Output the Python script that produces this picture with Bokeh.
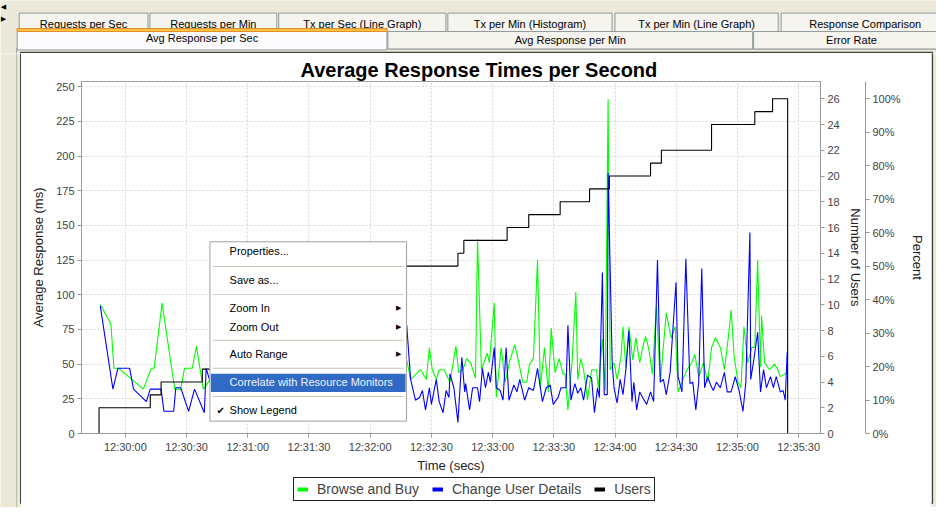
from datetime import datetime, timedelta
from bokeh.plotting import figure
from bokeh.layouts import column, row
from bokeh.models import (Range1d, LinearAxis, SingleIntervalTicker, DatetimeTickFormatter,
                          PrintfTickFormatter, Legend, LegendItem, BoxAnnotation, Label, Title)
from bokeh.core.properties import value
from bokeh.embed import file_html
from bokeh.resources import INLINE

# ---------------- data (seconds relative to 12:30:00) ----------------
green_t = [-12.3, -7.1, -5.6, -3.2, 8.8, 12.7, 14.1, 18.0, 24.2, 27.1,
           29.0, 32.8, 34.8, 38.2, 41.6,
           45.0, 48.5, 52.0, 55.5, 59.0, 62.5, 66.0, 69.5, 73.0, 76.5,
           80.0, 83.5, 87.0, 90.5, 94.0, 97.5, 101.0, 104.5, 108.0, 111.5,
           115.0, 118.5, 122.0, 125.5, 129.0, 132.5, 136.0,
           137.9, 139.8, 144.7, 147.5, 149.0, 150.4, 152.4, 153.8, 156.2, 159.1,
           162.0, 163.4, 165.4, 167.3, 169.2, 171.6, 172.6, 174.5, 177.4, 178.4,
           180.8, 181.8, 184.2, 186.1, 188.5, 190.9, 192.8, 194.8, 196.7, 198.1,
           200.0, 202.0, 203.4, 205.4, 207.3, 208.7, 210.6, 212.6, 214.5, 215.5,
           216.9, 218.9, 220.8, 221.7, 223.2, 224.6, 226.5, 228.5, 230.9, 231.8,
           233.8, 235.2, 236.6, 237.6, 239.5, 241.0, 242.9, 243.9, 245.3, 246.8,
           248.7, 250.2, 252.1, 253.5, 255.0, 256.4, 258.3, 260.3, 262.2, 265.1,
           267.5, 269.5, 270.9, 273.3, 275.2, 277.6, 279.1, 281.0, 283.4, 285.4,
           287.3, 289.2, 291.6, 293.6, 295.5, 296.9, 298.4, 300.3, 301.7, 303.2,
           305.1, 307.0, 308.5, 309.9, 311.3, 311.8, 313.3, 315.7, 318.1, 319.5,
           321.0, 324.4]
green_v = [93, 79, 47, 47, 32, 47, 47, 94, 32, 32,
           47, 47, 63, 32, 39,
           52, 41, 58, 37, 48, 66, 44, 39, 55, 47,
           35, 61, 50, 42, 72, 45, 38, 53, 46, 59,
           40, 49, 64, 43, 51, 38, 48,
           53, 39, 46, 39, 62, 46, 39, 46, 46, 37,
           63, 44, 46, 54, 51, 40, 140, 46, 58, 51,
           94, 26, 62, 37, 53, 64, 51, 37, 37, 50,
           54, 125, 33, 62, 30, 76, 44, 54, 43, 43,
           17, 51, 102, 39, 54, 46, 24, 46, 46, 33,
           68, 31, 241, 46, 51, 39, 55, 77, 47, 77,
           53, 69, 51, 62, 70, 62, 43, 92, 37, 87,
           69, 77, 30, 39, 46, 51, 57, 41, 51, 37,
           62, 69, 62, 46, 69, 89, 55, 37, 33, 77,
           51, 62, 62, 125, 48, 85, 51, 46, 50, 47,
           41, 44]

blue_t = [-12.3, -6.1, -3.7, 2.1, 4.0, 10.3, 12.2, 17.5, 18.9, 23.7,
          24.7, 27.1, 31.0, 33.9, 38.7, 39.6, 41.6,
          45.0, 48.5, 52.0, 55.5, 59.0, 62.5, 66.0, 69.5, 73.0, 76.5,
          80.0, 83.5, 87.0, 90.5, 94.0, 97.5, 101.0, 104.5, 108.0, 111.5,
          115.0, 118.5, 122.0, 125.5, 129.0, 132.5, 136.0,
          137.9, 139.8, 142.2, 144.2, 145.6, 147.1, 149.0, 150.0, 152.4, 153.8,
          155.7, 157.2, 158.6, 159.1, 161.0, 163.0, 164.9, 166.3, 166.8, 168.7,
          170.2, 172.6, 173.6, 175.0, 176.5, 177.9, 178.9, 180.8, 181.8, 183.7,
          185.1, 186.6, 188.0, 190.4, 191.9, 193.3, 195.7, 197.7, 200.0, 202.0,
          204.4, 206.3, 208.2, 209.7, 212.1, 213.5, 216.0, 216.9, 218.4, 220.3,
          221.7, 223.2, 224.6, 226.5, 228.5, 229.9, 231.4, 232.3, 233.8, 234.7,
          236.2, 236.6, 238.6, 239.5, 241.0, 242.5, 243.9, 245.3, 246.8, 248.3,
          249.2, 250.6, 252.1, 253.5, 255.5, 257.4, 258.9, 260.8, 262.2, 263.7,
          265.1, 267.0, 268.0, 269.9, 270.9, 272.8, 274.7, 276.7, 278.1, 279.6,
          281.0, 282.5, 283.9, 285.4, 286.8, 288.2, 289.7, 291.6, 293.6, 295.0,
          296.9, 298.9, 300.8, 302.7, 304.1, 306.1, 306.5, 308.0, 309.9, 311.3,
          312.8, 314.2, 316.2, 317.6, 319.0, 321.0, 322.4, 323.4, 324.4]
blue_v = [92, 32, 47, 47, 32, 23, 32, 32, 16, 16,
          33, 33, 16, 32, 15, 47, 37,
          28, 35, 22, 40, 31, 26, 45, 30, 24, 38,
          29, 33, 21, 41, 34, 27, 36, 25, 44, 32,
          28, 39, 30, 47, 33, 55, 70,
          78, 39, 24, 26, 31, 17, 33, 21, 39, 23,
          15, 31, 26, 43, 33, 8, 55, 30, 36, 17,
          33, 33, 23, 47, 33, 44, 37, 62, 33, 31,
          24, 62, 24, 35, 30, 39, 24, 33, 31, 47,
          23, 33, 35, 21, 26, 33, 33, 78, 24, 36,
          29, 33, 24, 42, 40, 15, 33, 26, 116, 28,
          28, 188, 51, 33, 22, 39, 28, 46, 74, 23,
          37, 17, 30, 26, 21, 30, 23, 125, 37, 39,
          28, 44, 67, 109, 41, 30, 126, 36, 37, 17,
          37, 119, 33, 41, 35, 31, 37, 33, 44, 30,
          30, 41, 31, 16, 37, 145, 39, 53, 73, 30,
          46, 33, 41, 33, 41, 30, 31, 24, 59]

users_t = [-13.8, -12.9, 12.2, 17.5, 37.7, 54.6, 69.0, 83.5, 94.1, 105.2,
           117.2, 129.3, 134.1, 163.0, 165.9, 187.1, 197.7, 213.1, 227.5, 237.2,
           257.4, 262.7, 287.3, 308.5, 317.2, 324.6]
users_n = [0, 2, 3, 4, 5, 6, 7, 8, 9, 10,
           11, 12, 13, 14, 15, 16, 17, 18, 19, 20,
           21, 22, 24, 25, 26, 0]

series_names = ["Browse and Buy", "Change User Details", "Users"]
series_colors = ["#00ff00", "#0000ff", "#000000"]
title_text = "Average Response Times per Second"

tabs_row1 = ["Requests per Sec", "Requests per Min", "Tx per Sec (Line Graph)",
             "Tx per Min (Histogram)", "Tx per Min (Line Graph)", "Response Comparison"]
tabs_row2 = ["Avg Response per Sec", "Avg Response per Min", "Error Rate"]
menu_items = ["Properties...", "Save as...", "Zoom In", "Zoom Out", "Auto Range",
              "Correlate with Resource Monitors", "Show Legend"]

BASE = datetime(2010, 1, 1, 12, 30, 0)


def ts(sec):
    return BASE + timedelta(seconds=sec)


FONT = "Liberation Sans"
BEIGE = "#ECE9D8"
TABLINE = "#919B9C"
PANEL = "#404040"
SX, SY = 936 / 952, 507 / 523   # reference px -> canvas px

# ---------------- layout sizes (canvas px) ----------------
TOP_H, SIDE_W, RIGHT_W, BOT_H = 53, 21, 5, 5
CH_W = 936 - SIDE_W - RIGHT_W          # 910
MID_H = 507 - TOP_H - BOT_H            # 449
CH_H, LEG_H = 422, MID_H - 422         # chart / legend strip
ref = lambda cx: cx / SX
refy = lambda cy: cy / SY


def blank(w, h, x0, x1, y0, y1, bg=BEIGE):
    f = figure(width=w, height=h, x_range=Range1d(x0, x1), y_range=Range1d(y1, y0),
               output_backend="svg", toolbar_location=None, title=None,
               x_axis_type=None, y_axis_type=None, min_border=0,
               outline_line_color=None, background_fill_color=bg, border_fill_color=bg)
    return f


# ---------------- tab strip (drawn in reference px) ----------------
tabs = blank(936, TOP_H, 0, 952, 0, refy(TOP_H))
r1_x = [(19, 150), (152, 281), (283, 453), (455, 622), (625, 791), (794, 965)]
tabs.quad(left=[a for a, b in r1_x], right=[b for a, b in r1_x], top=[13] * 6, bottom=[33] * 6,
          fill_color="#F5F4EF", line_color=TABLINE)
tabs.text(x=[(a + b) / 2 for a, b in r1_x], y=[24] * 6, text=tabs_row1,
          text_align="center", text_baseline="middle", text_font=value(FONT),
          text_font_size="11px", text_color="black")
r2_x = [(17, 393), (394, 765), (766, 965)]
tabs.quad(left=[16, 16], right=[960, 17], top=[49.5, 49.5], bottom=[50.5, 60],
          fill_color=TABLINE, line_color=None)
tabs.quad(left=[a for a, b in r2_x[1:]], right=[b for a, b in r2_x[1:]], top=[32, 32],
          bottom=[50, 50], fill_color="#F5F4EF", line_color=TABLINE)
tabs.text(x=[(a + b) / 2 for a, b in r2_x[1:]], y=[41, 41], text=tabs_row2[1:],
          text_align="center", text_baseline="middle", text_font=value(FONT),
          text_font_size="11px", text_color="black")
sa, sb = r2_x[0]
tabs.quad(left=[sa], right=[sb], top=[29], bottom=[51], fill_color="#FCFCFE", line_color=TABLINE)
tabs.quad(left=[sa], right=[sb], top=[29], bottom=[32], fill_color="#FFC83C", line_color="#E68B2C")
tabs.text(x=[(sa + sb) / 2], y=[39], text=[tabs_row2[0]], text_align="center",
          text_baseline="middle", text_font=value(FONT), text_font_size="11px", text_color="black")
tabs.text(x=[3, 3], y=[7, 19], text=["\u25C0", "\u25B6"], text_align="center",
          text_baseline="middle", text_font=value("DejaVu Sans"), text_font_size="7px",
          text_color="black")
tabs.quad(left=[20.5], right=[948], top=[53.6], bottom=[56], fill_color="white",
          line_color=PANEL, line_width=1.5)

# ---------------- side strips ----------------
y_top = refy(TOP_H)
left = blank(SIDE_W, MID_H + BOT_H, 0, ref(SIDE_W), y_top, 523)
left.quad(left=[16], right=[17], top=[y_top], bottom=[523], fill_color="#B5B4AA", line_color=None)
left.quad(left=[20.6], right=[30], top=[y_top], bottom=[518.6], fill_color="white",
          line_color=PANEL, line_width=1.5)
x_r0 = ref(SIDE_W + CH_W)
right = blank(RIGHT_W, MID_H + BOT_H, x_r0, 952, y_top, 523)
right.quad(left=[900], right=[947.8], top=[y_top], bottom=[518.6], fill_color="white",
           line_color=PANEL, line_width=1.5)
bottom = blank(CH_W, BOT_H, ref(SIDE_W), x_r0, refy(TOP_H + MID_H), 523)
bottom.quad(left=[0], right=[947.8], top=[400], bottom=[518.6], fill_color="white",
            line_color=PANEL, line_width=1.5)

# ---------------- chart ----------------
ML, MT = 60, 28
MR = CH_W - 799
MB = CH_H - 383
p = figure(width=CH_W, height=CH_H, output_backend="svg", toolbar_location=None,
           x_axis_type="datetime",
           x_range=Range1d(ts(-21.5), ts(340.7)), y_range=Range1d(0, 253.8),
           min_border_left=ML, min_border_right=MR, min_border_top=MT, min_border_bottom=MB,
           background_fill_color="white", border_fill_color="white",
           outline_line_color="#a0a0a0", title=None)
p.extra_y_ranges = {"users": Range1d(0, 27.34), "pct": Range1d(0, 105.2)}
p.add_layout(Title(text=title_text, align="left", offset=219, vertical_align="middle",
                   standoff=0, text_font=FONT, text_font_size="20px",
                   text_font_style="bold", text_color="black"), "above")


def style_axis(ax, label_standoff):
    ax.axis_line_color = "#999999"
    ax.major_tick_line_color = "#999999"
    ax.major_tick_out = 4
    ax.major_tick_in = 0
    ax.minor_tick_line_color = None
    ax.major_label_text_font = FONT
    ax.major_label_text_font_size = "11px"
    ax.major_label_text_color = "#444444"
    ax.major_label_standoff = 3
    ax.axis_label_text_font = FONT
    ax.axis_label_text_font_size = "13px"
    ax.axis_label_text_font_style = "normal"
    ax.axis_label_text_color = "#222222"
    ax.axis_label_standoff = label_standoff


xax = p.xaxis[0]
xax.ticker = SingleIntervalTicker(interval=30000, num_minor_ticks=0)
fmt = "%H:%M:%S"
xax.formatter = DatetimeTickFormatter(seconds=fmt, minsec=fmt, minutes=fmt, hourmin=fmt, hours=fmt)
xax.axis_label = "Time (secs)"
style_axis(xax, 2)

yax = p.yaxis[0]
yax.ticker = SingleIntervalTicker(interval=25, num_minor_ticks=0)
yax.axis_label = "Average Response (ms)"
style_axis(yax, 7)

uax = LinearAxis(y_range_name="users", axis_label="Number of Users",
                 ticker=SingleIntervalTicker(interval=2, num_minor_ticks=0))
style_axis(uax, 5)
p.add_layout(uax, "right")

pax = LinearAxis(y_range_name="pct", axis_label="Percent",
                 ticker=SingleIntervalTicker(interval=10, num_minor_ticks=0),
                 formatter=PrintfTickFormatter(format="%d%%"))
style_axis(pax, 6)
p.add_layout(pax, "right")

for g in (p.xgrid[0], p.ygrid[0]):
    g.grid_line_color = "#d9d9d9"
    g.grid_line_dash = "2 2"

# data lines
p.line([ts(t) for t in green_t], green_v, line_color=series_colors[0], line_width=1.1)
p.line([ts(t) for t in blue_t], blue_v, line_color=series_colors[1], line_width=1.1)
p.step([ts(t) for t in users_t], users_n, mode="after", line_color=series_colors[2],
       line_width=1.1, y_range_name="users")

# ---------------- context menu (reference px -> frame screen px) ----------------
FLc, FBc = SIDE_W + ML, TOP_H + CH_H - MB


def box(x1, y1, x2, y2, fill, line=None, lw=1):
    p.add_layout(BoxAnnotation(left=x1 * SX - FLc, right=x2 * SX - FLc,
                               top=FBc - y1 * SY, bottom=FBc - y2 * SY,
                               left_units="screen", right_units="screen",
                               top_units="screen", bottom_units="screen",
                               fill_color=fill, fill_alpha=1.0, line_color=line,
                               line_alpha=1.0, line_width=lw, level="overlay"))


def text(x, y, s, size=11, color="black", align="left", font=FONT):
    p.add_layout(Label(x=x * SX - FLc, y=FBc - y * SY, x_units="screen", y_units="screen",
                       text=s, text_align=align, text_baseline="middle", text_font=font,
                       text_font_size=f"{size}px", text_color=color, level="overlay"))


box(213, 252, 413, 437, "white", "#A0A0A0")
for yy in (277, 306, 353, 382, 411):
    box(216, yy, 410, yy + 1, "#C5C2B2")
box(214, 388, 412, 407, "#316AC5")
menu_y = [262, 291, 320, 340, 368, 397, 426]
for name, yy in zip(menu_items, menu_y):
    col = "#F0F4FF" if name.startswith("Correlate") else "black"
    text(233, yy, name, color=col)
for yy in (320, 340, 368):
    text(405, yy, "\u25B6", size=7, align="center", font="DejaVu Sans")
text(224, 426, "\u2714", size=10, align="center", font="DejaVu Sans")

# ---------------- legend strip ----------------
leg = blank(CH_W, LEG_H, 0, 1, 0, 1, bg="white")
swatches = [leg.line([5, 6], [5, 6], line_color=c, line_width=4) for c in series_colors]
legend = Legend(items=[LegendItem(label=n, renderers=[r]) for n, r in zip(series_names, swatches)],
                orientation="horizontal", location=(212, 1),
                border_line_color="#222222", border_line_width=1.2, border_line_alpha=1,
                background_fill_color="white", background_fill_alpha=1,
                padding=3, margin=0, spacing=13, glyph_width=11, glyph_height=14,
                label_standoff=9, label_text_font=FONT, label_text_font_size="14px",
                label_height=14)
leg.add_layout(legend)

layout = column(tabs, row(left, column(p, leg, bottom), right))
open("out.html", "w").write(file_html(layout, INLINE))
